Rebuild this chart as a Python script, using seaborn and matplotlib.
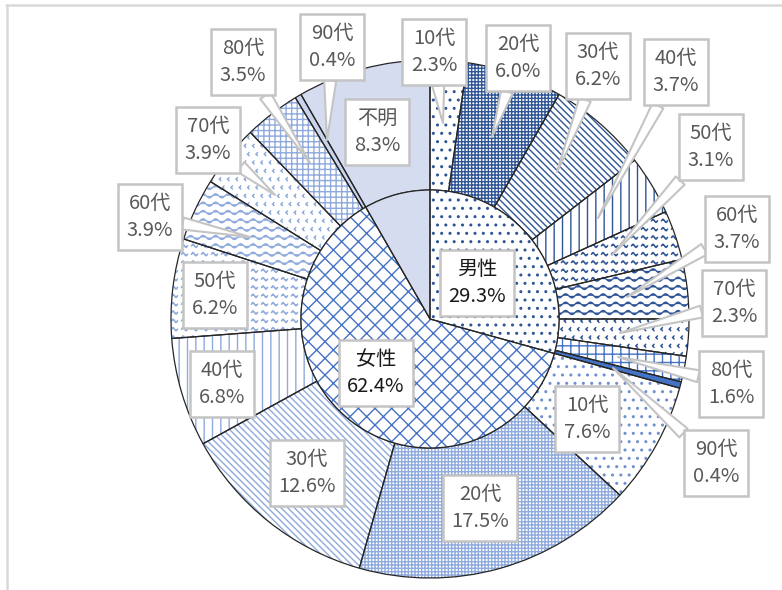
import numpy as np
import matplotlib
matplotlib.use("Agg")
import matplotlib.pyplot as plt
import matplotlib.hatch as mhatch
from matplotlib.path import Path
import seaborn as sns

# ---------------- data ----------------
genders = ["男性", "女性", "不明"]
gender_pct = [29.3, 62.4, 8.3]
ages = ["10代", "20代", "30代", "40代", "50代", "60代", "70代", "80代", "90代"]
male_pct = [2.3, 6.0, 6.2, 3.7, 3.1, 3.7, 2.3, 1.6, 0.4]
female_pct = [7.6, 17.5, 12.6, 6.8, 6.2, 3.9, 3.9, 3.5, 0.4]
unknown_label = ["不明"]
unknown_pct = [8.3]

# ---------------- custom hatches ----------------
class Waves(mhatch.HatchPatternBase):
    def __init__(self, hatch, density):
        self.num_lines = int(hatch.count("~") * density)
        self.npts = 97
        self.num_vertices = self.num_lines * self.npts

    def set_vertices_and_codes(self, vertices, codes):
        x = np.linspace(0, 1, self.npts)
        step = 1.0 / self.num_lines
        for i in range(self.num_lines):
            sl = slice(i * self.npts, (i + 1) * self.npts)
            vertices[sl, 0] = x
            vertices[sl, 1] = (i + 0.5) * step + 0.24 * step * np.sin(2 * np.pi * 8 * x)
            codes[sl] = Path.LINETO
            codes[i * self.npts] = Path.MOVETO


class SmallWaves(mhatch.HatchPatternBase):
    def __init__(self, hatch, density):
        self.num_lines = int(hatch.count("s") * density)
        self.pieces = 10
        self.npts = 9
        self.num_vertices = self.num_lines * self.pieces * self.npts

    def set_vertices_and_codes(self, vertices, codes):
        step = 1.0 / self.num_lines
        w = 1.0 / self.pieces
        t = np.linspace(0, 1, self.npts)
        k = 0
        for i in range(self.num_lines):
            for j in range(self.pieces):
                x0 = (j + 0.15) * w
                sl = slice(k, k + self.npts)
                vertices[sl, 0] = x0 + 0.6 * w * t
                vertices[sl, 1] = (i + 0.5) * step + 0.2 * step * np.sin(2 * np.pi * t)
                codes[sl] = Path.LINETO
                codes[k] = Path.MOVETO
                k += self.npts


class Chevrons(mhatch.HatchPatternBase):
    def __init__(self, hatch, density):
        self.n = int(hatch.count("v") * density)
        self.num_vertices = self.n * self.n * 3

    def set_vertices_and_codes(self, vertices, codes):
        s = 1.0 / self.n
        k = 0
        for i in range(self.n):
            for j in range(self.n):
                cx = (j + 0.3 + 0.4 * (i % 2)) * s
                cy = (i + 0.5) * s
                vertices[k] = (cx + 0.18 * s, cy + 0.18 * s)
                vertices[k + 1] = (cx, cy)
                vertices[k + 2] = (cx + 0.18 * s, cy - 0.18 * s)
                codes[k] = Path.MOVETO
                codes[k + 1] = Path.LINETO
                codes[k + 2] = Path.LINETO
                k += 3


mhatch._hatch_types.extend([Waves, SmallWaves, Chevrons])

# ---------------- style ----------------
sns.set_theme(style="white")
plt.rcParams["font.family"] = ["Noto Sans CJK JP", "DejaVu Sans"]
plt.rcParams["hatch.linewidth"] = 1.0

DM = "#2F5597"   # male pattern colour
MB = "#4472C4"
LB = "#8FAADC"   # female pattern colour
UNK = "#D6DCEF"

male_styles = [
    ("white", DM, ".."), ("white", DM, "+++++"), ("white", DM, "\\\\\\\\\\"),
    ("white", DM, "||"), ("white", DM, "ss"), ("white", DM, "~~"),
    ("white", DM, "vv"), ("white", MB, "++"), (MB, MB, ""),
]
female_styles = [
    ("white", "#6F8FCF", ".."), ("white", LB, "+++++"), ("white", LB, "\\\\\\\\\\"),
    ("white", LB, "||"), ("white", LB, "ss"), ("white", LB, "~~"),
    ("white", LB, "vv"), ("white", LB, "+++"), ("#C9D3EE", "#C9D3EE", ""),
]
unknown_styles = [(UNK, UNK, "")]
inner_styles = [("white", DM, ".."), ("white", MB, "xx"), (UNK, UNK, "")]

W, H = 782, 590
fig = plt.figure(figsize=(W / 100, H / 100), dpi=100)
ax = fig.add_axes([0, 0, 1, 1])


def P(x, y):
    return (x, H - y)


CENTER = P(430, 319)
R_OUT, R_IN = 259, 129

outer_vals = male_pct + female_pct + unknown_pct
outer_styles = male_styles + female_styles + unknown_styles


def styled_pie(vals, styles, radius, width=None):
    wp = dict(linewidth=0)
    if width is not None:
        wp["width"] = width
    wedges, _ = ax.pie(vals, radius=radius, center=CENTER, startangle=90,
                       counterclock=False, wedgeprops=wp)
    for w, (fc, hc, h) in zip(wedges, styles):
        w.set_facecolor(fc)
        w.set_edgecolor(hc)
        w.set_linewidth(0)
        w._hatch = h if h else None
    # outlines
    wp2 = dict(linewidth=0.9, edgecolor="#262626", facecolor="none")
    if width is not None:
        wp2["width"] = width
    ax.pie(vals, radius=radius, center=CENTER, startangle=90,
           counterclock=False, wedgeprops=wp2)


styled_pie(outer_vals, outer_styles, R_OUT, R_OUT - R_IN)
styled_pie(gender_pct, inner_styles, R_IN)

# ---------------- labels ----------------
male_pos = [(434, 52), (518, 58), (598, 66), (676, 72), (711, 147),
            (737, 229), (734, 303), (731, 384), (716, 463)]
male_tip = [(443, 123), (492, 137), (557, 172), (598, 218), (612, 255),
            (627, 297), (620, 333), (618, 357), (613, 368)]
female_pos = [(587, 419), (480, 508), (307, 473), (222, 384), (215, 295),
              (150, 217), (208, 140), (243, 62), (332, 47)]
female_tip = [None, None, None, None, None,
              (250, 237), (275, 195), (310, 163), (327, 140)]
unknown_pos = [(377, 132)]
unknown_tip = [None]

labels = ([f"{a}\n{v:.1f}%" for a, v in zip(ages, male_pct)] +
          [f"{a}\n{v:.1f}%" for a, v in zip(ages, female_pct)] +
          [f"{a}\n{v:.1f}%" for a, v in zip(unknown_label, unknown_pct)])
positions = male_pos + female_pos + unknown_pos
tips = male_tip + female_tip + unknown_tip

FS = 14.5
box = dict(boxstyle="square,pad=0.42", fc="white", ec="#C4C4C4", lw=1.8)
for txt, pos, tip in zip(labels, positions, tips):
    if tip is None:
        ax.text(*P(*pos), txt, ha="center", va="center", fontsize=FS,
                color="#595959", linespacing=1.4, bbox=box, zorder=5)
    else:
        ax.annotate(txt, xy=P(*tip), xytext=P(*pos), ha="center", va="center",
                    fontsize=FS, color="#595959", linespacing=1.4, bbox=box,
                    zorder=5,
                    arrowprops=dict(arrowstyle="wedge,tail_width=0.6,shrink_factor=0.5",
                                    fc="white", ec="#C4C4C4", lw=1.5,
                                    shrinkA=0, shrinkB=0))

inner_pos = [(477, 283), (376, 373)]
for g, v, pos in zip(genders[:2], gender_pct[:2], inner_pos):
    ax.text(*P(*pos), f"{g}\n{v:.1f}%", ha="center", va="center", fontsize=FS,
            color="#1A1A1A", linespacing=1.4, bbox=box, zorder=5)

# chart-area frame (top and left edges visible)
ax.plot([6, W], [H - 5, H - 5], color="#D9D9D9", lw=1.8, clip_on=False)
ax.plot([7, 7], [H - 5, 0], color="#D9D9D9", lw=1.8, clip_on=False)

ax.set_xlim(0, W)
ax.set_ylim(0, H)
ax.set_aspect("equal")
ax.axis("off")
fig.savefig("out.png", dpi=100)
